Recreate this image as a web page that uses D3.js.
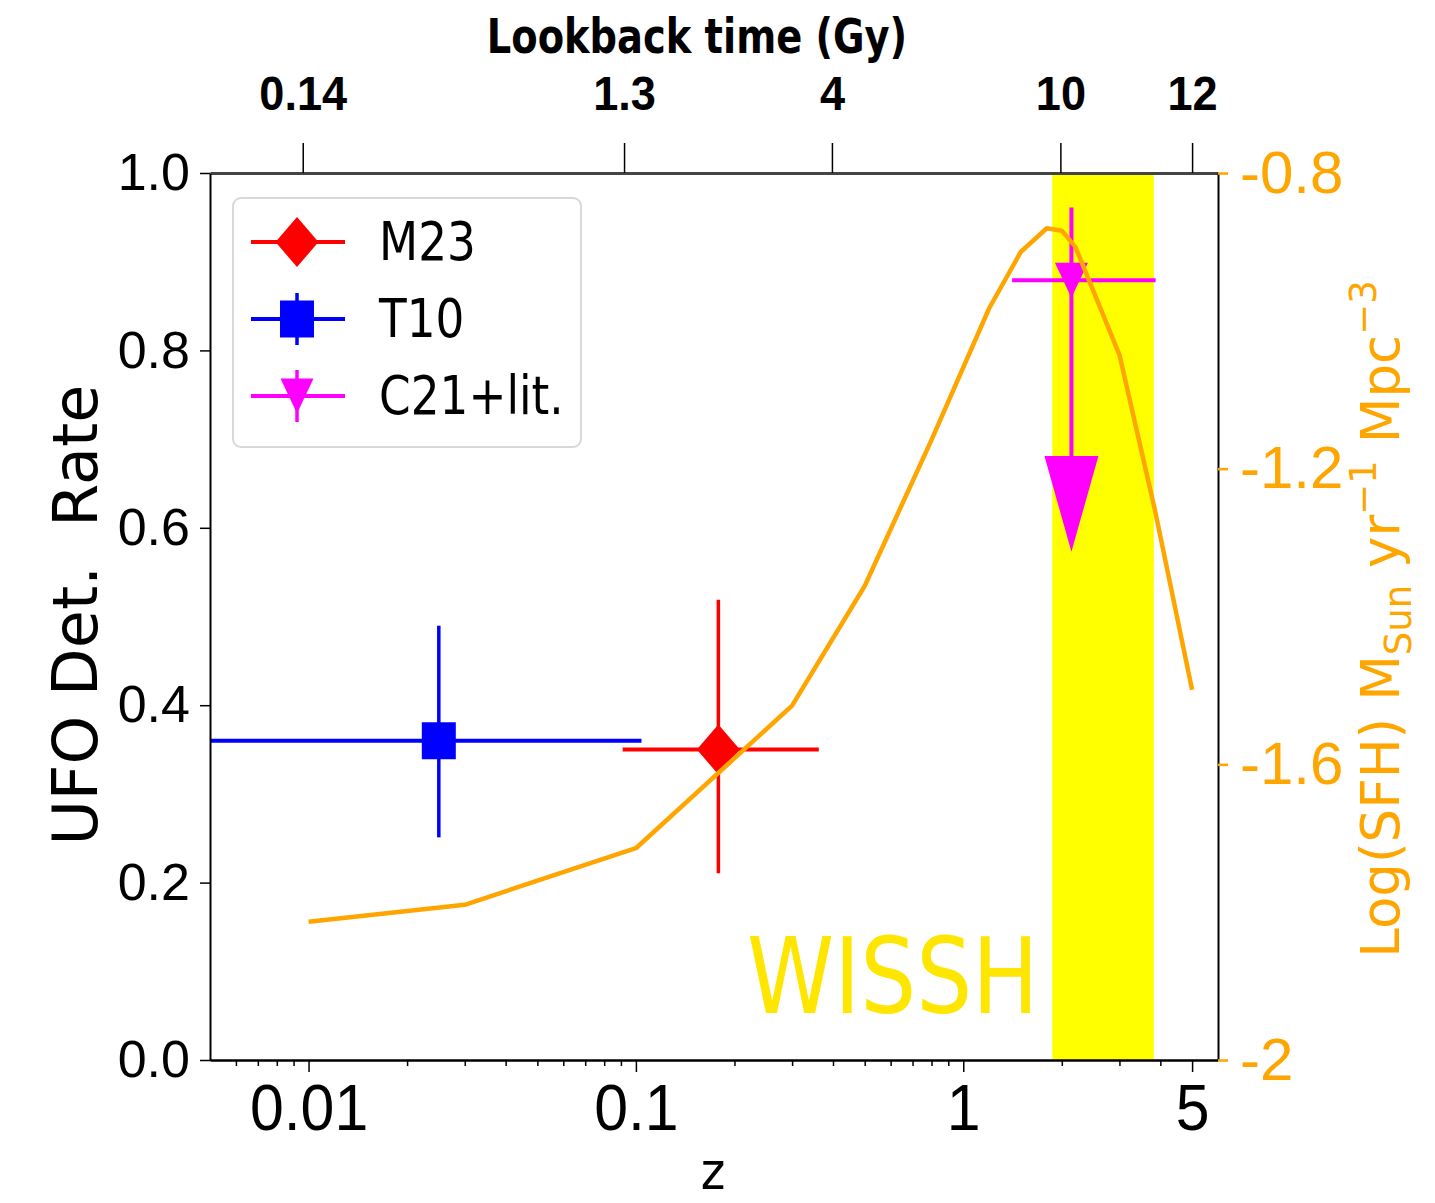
<!DOCTYPE html>
<html>
<head>
<meta charset="utf-8">
<script src="https://cdn.jsdelivr.net/npm/d3@7"></script>
<style>
  body { margin: 0; background: #fff; }
  svg { display: block; font-family: "DejaVu Sans", sans-serif; }
</style>
</head>
<body>
<div id="chart"></div>
<script>
// redshift axis
const zDomain = [0.005, 6];
const zMajor = [0.01, 0.1, 1, 5];
const zMinor = [0.006, 0.007, 0.008, 0.009, 0.02, 0.03, 0.04, 0.05, 0.06, 0.07, 0.08, 0.09,
                0.2, 0.3, 0.4, 0.5, 0.6, 0.7, 0.8, 0.9, 2, 3, 4];

// lookback time (top axis)
const lookbackZ = [0.0096, 0.092, 0.397, 1.98, 5.0];
const lookbackLabels = ["0.14", "1.3", "4", "10", "12"];

// left axis: UFO detection rate
const rateTicks = [0, 0.2, 0.4, 0.6, 0.8, 1.0];

// right axis: log SFH
const sfhTicks = [-0.8, -1.2, -1.6, -2];
const sfhLabels = ["-0.8", "-1.2", "-1.6", "-2"];

// samples
const sampleNames = ["M23", "T10", "C21+lit."];
const sampleColors = ["#ff0000", "#0000ff", "#ff00ff"];
const sampleZ = [0.1786, 0.025, 2.14];
const sampleZLo = [0.0911, 0.004, 1.41];
const sampleZHi = [0.362, 0.104, 3.87];
const sampleRate = [0.350, 0.360, 0.879];
const sampleRateLo = [0.2105, 0.251, 0.573];
const sampleRateHi = [0.519, 0.4896, 0.961];
const upperLimit = [false, false, true];
const arrowHeadTop = 0.681;

// WISSH redshift band
const wisshBand = [1.87, 3.82];

// cosmic star formation history
const sfhZ = [0.01, 0.03, 0.1, 0.3, 0.5, 0.8, 1.2, 1.5, 1.8, 2.0, 2.2, 3.0, 3.85, 5.0];
const sfhVal = [-1.813, -1.790, -1.7135, -1.5206, -1.3587, -1.161, -0.983, -0.9065,
                -0.8748, -0.878, -0.900, -1.046, -1.256, -1.499];

const W = 1435, H = 1203;

const svg = d3.select("#chart").append("svg")
    .attr("width", W)
    .attr("height", H);

const plotL = 210, plotR = 1218, plotT = 173, plotB = 1060;

const x = d3.scaleLog().domain(zDomain).range([plotL, plotR]);
const y = d3.scaleLinear().domain([0, 1]).range([plotB, plotT]);
const ySfh = d3.scaleLinear().domain([-2, -0.8]).range([plotB, plotT]);

svg.append("clipPath").attr("id", "plot-clip")
    .append("rect")
    .attr("x", plotL).attr("y", plotT)
    .attr("width", plotR - plotL).attr("height", plotB - plotT);

const plot = svg.append("g").attr("clip-path", "url(#plot-clip)");

// narrowed text helper
function label(parent, px, py, size, sx, str) {
    return parent.append("text")
        .attr("transform", `translate(${px},${py}) scale(${sx},1)`)
        .attr("font-size", size)
        .text(str);
}

// WISSH band
plot.append("rect")
    .attr("x", x(wisshBand[0]))
    .attr("y", plotT)
    .attr("width", x(wisshBand[1]) - x(wisshBand[0]))
    .attr("height", plotB - plotT)
    .attr("fill", "#ffff00");

label(plot, 747, 1013, 105, 0.84, "WISSH").attr("fill", "#ffe600");

// error bars
sampleNames.forEach((name, i) => {
    const g = plot.append("g");
    const c = sampleColors[i];
    const cx = x(sampleZ[i]);
    g.append("line")
        .attr("x1", x(sampleZLo[i])).attr("x2", x(sampleZHi[i]))
        .attr("y1", y(sampleRate[i])).attr("y2", y(sampleRate[i]))
        .attr("stroke", c).attr("stroke-width", 4);
    if (upperLimit[i]) {
        g.append("line")
            .attr("x1", cx).attr("x2", cx)
            .attr("y1", y(sampleRateHi[i])).attr("y2", y(arrowHeadTop))
            .attr("stroke", c).attr("stroke-width", 4);
        const hw = 27;
        g.append("path")
            .attr("d", `M${cx - hw},${y(arrowHeadTop)}L${cx + hw},${y(arrowHeadTop)}L${cx},${y(sampleRateLo[i])}Z`)
            .attr("fill", c);
    } else {
        g.append("line")
            .attr("x1", cx).attr("x2", cx)
            .attr("y1", y(sampleRateLo[i])).attr("y2", y(sampleRateHi[i]))
            .attr("stroke", c).attr("stroke-width", 3.5);
    }
});

function markerPath(kind, cx, cy) {
    if (kind === 0) {
        const rx = 21.5, ry = 25;
        return `M${cx},${cy - ry}L${cx + rx},${cy}L${cx},${cy + ry}L${cx - rx},${cy}Z`;
    }
    if (kind === 1) {
        const sx = 17, sy = 18.5;
        return `M${cx - sx},${cy - sy}H${cx + sx}V${cy + sy}H${cx - sx}Z`;
    }
    const hw = 16.5, h = 17.5;
    return `M${cx - hw},${cy - h}L${cx + hw},${cy - h}L${cx},${cy + h}Z`;
}

sampleNames.forEach((name, i) => {
    plot.append("path")
        .attr("d", markerPath(i, x(sampleZ[i]), y(sampleRate[i])))
        .attr("fill", sampleColors[i]);
});

// SFH curve
const line = d3.line()
    .x((d, i) => x(sfhZ[i]))
    .y(d => ySfh(d));

plot.append("path")
    .datum(sfhVal)
    .attr("d", line)
    .attr("fill", "none")
    .attr("stroke", "#ffa500")
    .attr("stroke-width", 4.5)
    .attr("stroke-linejoin", "round");

// axes
const axisStroke = sel => {
    sel.selectAll("path.domain").attr("stroke", "#000").attr("stroke-width", 2);
    sel.selectAll(".tick line").attr("stroke", "#000").attr("stroke-width", 1.5);
};

svg.append("g")
    .attr("transform", `translate(0,${plotB})`)
    .call(d3.axisBottom(x).tickValues(zMinor).tickSize(6).tickSizeOuter(0).tickFormat(""))
    .call(axisStroke);

const bottomAxis = svg.append("g")
    .attr("transform", `translate(0,${plotB})`)
    .call(d3.axisBottom(x).tickValues(zMajor).tickSize(12).tickPadding(13).tickSizeOuter(0)
        .tickFormat(d => String(d)));
bottomAxis.call(axisStroke);
bottomAxis.selectAll("text").attr("font-size", 64).attr("fill", "#000")
    .attr("transform", "scale(0.95,1)");

const topAxis = svg.append("g")
    .attr("transform", `translate(0,${plotT})`)
    .call(d3.axisTop(x).tickValues(lookbackZ).tickSize(30).tickPadding(33).tickSizeOuter(0)
        .tickFormat((d, i) => lookbackLabels[i]));
topAxis.call(axisStroke);
topAxis.select("path.domain").attr("stroke", "#444").attr("stroke-width", 3);
topAxis.selectAll("text").attr("font-size", 48).attr("font-weight", "bold").attr("fill", "#000")
    .attr("transform", "scale(0.94,1)");

const leftAxis = svg.append("g")
    .attr("transform", `translate(${plotL},0)`)
    .call(d3.axisLeft(y).tickValues(rateTicks).tickSize(10).tickPadding(10).tickSizeOuter(0)
        .tickFormat(d3.format(".1f")));
leftAxis.call(axisStroke);
leftAxis.selectAll("text").attr("font-size", 52).attr("fill", "#000");

const rightAxis = svg.append("g")
    .attr("transform", `translate(${plotR},0)`)
    .call(d3.axisRight(ySfh).tickValues(sfhTicks).tickSize(10).tickPadding(12).tickSizeOuter(0)
        .tickFormat((d, i) => sfhLabels[i]));
rightAxis.call(axisStroke);
rightAxis.selectAll(".tick line").attr("stroke", "#ffa500").attr("stroke-width", 2.5);
rightAxis.selectAll("text").attr("font-size", 60).attr("fill", "#ffa500");

// axis titles
label(svg, 697, 53, 48, 0.8, "Lookback time (Gy)")
    .attr("text-anchor", "middle").attr("font-weight", "bold");

label(svg, 713, 1189, 52, 0.9, "z").attr("text-anchor", "middle");

svg.append("text")
    .attr("transform", "translate(97,615) rotate(-90)")
    .attr("text-anchor", "middle")
    .attr("font-size", 62)
    .style("white-space", "pre")
    .text("UFO Det.  Rate");

const rl = svg.append("text")
    .attr("transform", "translate(1399,619) rotate(-90)")
    .attr("text-anchor", "middle")
    .attr("font-size", 53)
    .attr("fill", "#ffa500");
rl.append("tspan").text("Log(SFH) M");
rl.append("tspan").attr("font-size", 37).attr("dy", 12).text("Sun");
rl.append("tspan").attr("dy", -12).text(" yr");
rl.append("tspan").attr("font-size", 37).attr("dy", -23).text("\u22121");
rl.append("tspan").attr("dy", 23).text(" Mpc");
rl.append("tspan").attr("font-size", 37).attr("dy", -23).text("\u22123");

// legend
const legend = svg.append("g");
legend.append("rect")
    .attr("x", 233).attr("y", 198)
    .attr("width", 348).attr("height", 249)
    .attr("rx", 8)
    .attr("fill", "#fff").attr("fill-opacity", 0.85)
    .attr("stroke", "#d8d8d8").attr("stroke-width", 2);

const legendY = [242, 319, 396];
sampleNames.forEach((name, i) => {
    const ly = legendY[i], cx = 297;
    const c = sampleColors[i];
    legend.append("line")
        .attr("x1", 251).attr("x2", 345)
        .attr("y1", ly).attr("y2", ly)
        .attr("stroke", c).attr("stroke-width", 4);
    if (i > 0) {
        legend.append("line")
            .attr("x1", cx).attr("x2", cx)
            .attr("y1", ly - 26).attr("y2", ly + 26)
            .attr("stroke", c).attr("stroke-width", 3.5);
    }
    legend.append("path")
        .attr("d", markerPath(i, cx, ly))
        .attr("fill", c);
    label(legend, 379, ly + 18, 54, 0.84, name);
});
</script>
</body>
</html>
